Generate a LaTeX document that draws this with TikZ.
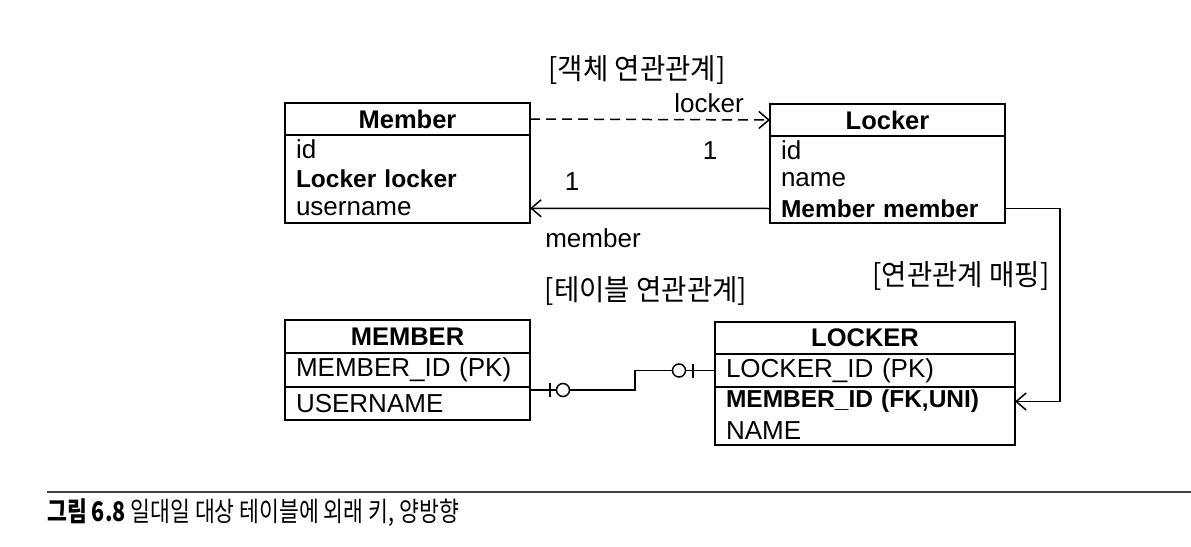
\documentclass[tikz,border=0pt]{standalone}
\usepackage{fontspec}
\setmainfont{Liberation Sans}
\newfontfamily\kr[FakeStretch=0.95]{Noto Sans CJK KR}
\newfontfamily\krcap[FakeStretch=0.8]{Noto Sans CJK KR}
\usepackage{tikz}
\usetikzlibrary{positioning,arrows.meta}

\begin{document}
\begin{tikzpicture}[x=1pt,y=-1pt,node distance=0pt,
    hdr/.style={draw,line width=1.9pt,outer sep=0pt,inner sep=0pt,minimum width=#1,
      minimum height=32pt,font=\bfseries\fontsize{25.5}{29}\selectfont},
    row/.style={outer sep=0pt,inner xsep=11pt,inner ysep=0pt,text width=#1,
      minimum height=29.3pt,align=left,font=\fontsize{26}{30}\selectfont},
    bold/.style={font=\bfseries\fontsize{24.5}{29}\selectfont},
    box/.style={draw,line width=1.9pt},
    conn/.style={line width=1.5pt},
    arr/.style={conn,-{Straight Barb[length=10pt,width=17pt,line width=1.5pt]}},
    lbl/.style={inner sep=0pt,font=\fontsize{26}{30}\selectfont},
    title/.style={inner sep=0pt,font=\kr\fontsize{29}{33}\selectfont}]
  \useasboundingbox (0,0) rectangle (1191,546);

  % object side
  \node[hdr=245pt,anchor=north west] (mem) at (285,103) {Member};
  \node[row=223pt] (memid) [below=of mem] {id};
  \node[row=223pt,bold] (memlk) [below=of memid] {Locker locker};
  \node[row=223pt] (memuser) [below=of memlk] {username};
  \draw[box] (memid.north west) rectangle (memuser.south east);

  \node[hdr=235pt,anchor=north west] (loc) at (770,104) {Locker};
  \node[row=213pt,minimum height=29pt] (locid) [below=of loc] {id};
  \node[row=213pt,minimum height=29pt] (locname) [below=of locid] {name};
  \node[row=213pt,minimum height=29pt,bold] (locmm) [below=of locname] {Member member};
  \draw[box] (locid.north west) rectangle (locmm.south east);

  \draw[conn,dash pattern=on 10pt off 6pt,-{Straight Barb[length=10pt,width=17pt,line width=1.5pt]}]
    (mem.east) -- node[lbl,pos=.746,yshift=17pt] (lblocker) {locker}
                  node[lbl,pos=.75,yshift=-31pt] (oneup) {1} (loc.west);
  \draw[arr] (locmm.west) -- node[lbl,pos=.825,yshift=27pt] (onedown) {1}
                             node[lbl,pos=.7375,yshift=-30pt] (lblmember) {member} (memuser.east);

  \node[title] (objrel) at (637,70) {[객체 연관관계]};

  % table side
  \node[hdr=245pt,minimum height=33pt,anchor=north west] (tmem) at (285,320) {MEMBER};
  \node[row=223pt,minimum height=34pt] (tmempk) [below=of tmem] {MEMBER\_ID (PK)};
  \node[row=223pt,minimum height=33pt] (tmemuser) [below=of tmempk] {USERNAME};
  \draw[box] (tmempk.north west) rectangle (tmempk.south east);
  \draw[box] (tmemuser.north west) rectangle (tmemuser.south east);

  \node[hdr=300pt,anchor=north west] (tloc) at (715,322) {LOCKER};
  \node[row=278pt,minimum height=33pt] (tlocpk) [below=of tloc] {LOCKER\_ID (PK)};
  \node[row=278pt,minimum height=29pt,bold] (tlocfk) [below=of tlocpk] {MEMBER\_ID (FK,UNI)};
  \node[row=278pt,minimum height=29pt] (tlocname) [below=of tlocfk] {NAME};
  \draw[box] (tlocpk.north west) rectangle (tlocpk.south east);
  \draw[box] (tlocfk.north west) rectangle (tlocname.south east);

  \node[title] (tabrel) at (646,291) {[테이블 연관관계]};
  \node[title] (mapping) at (961,276) {[연관관계 매핑]};

  % one to one, optional on both ends
  \coordinate (e1) at ([yshift=-3pt]tmemuser.north east);
  \draw[conn] (e1) -- ++(105,0) |- (tlocpk.west);
  \draw[conn] ([xshift=20pt,yshift=7pt]e1) -- ([xshift=20pt,yshift=-7pt]e1);
  \draw[conn,fill=white] ([xshift=33pt]e1) circle (6.5);
  \draw[conn] ([xshift=-22pt,yshift=7pt]tlocpk.west) -- ([xshift=-22pt,yshift=-7pt]tlocpk.west);
  \draw[conn,fill=white] ([xshift=-36pt]tlocpk.west) circle (6.5);

  \draw[arr] (locmm.east) -- ++(55,0) |- (tlocfk.east);

  % caption
  \draw[line width=1.5pt,black!75] (47,492) -- (1191,492);
  \node[anchor=west,inner sep=0pt,font=\krcap\fontsize{27}{32}\selectfont] (cap) at (47,513)
    {{\bfseries 그림 6.8} 일대일 대상 테이블에 외래 키, 양방향};
\end{tikzpicture}
\end{document}
